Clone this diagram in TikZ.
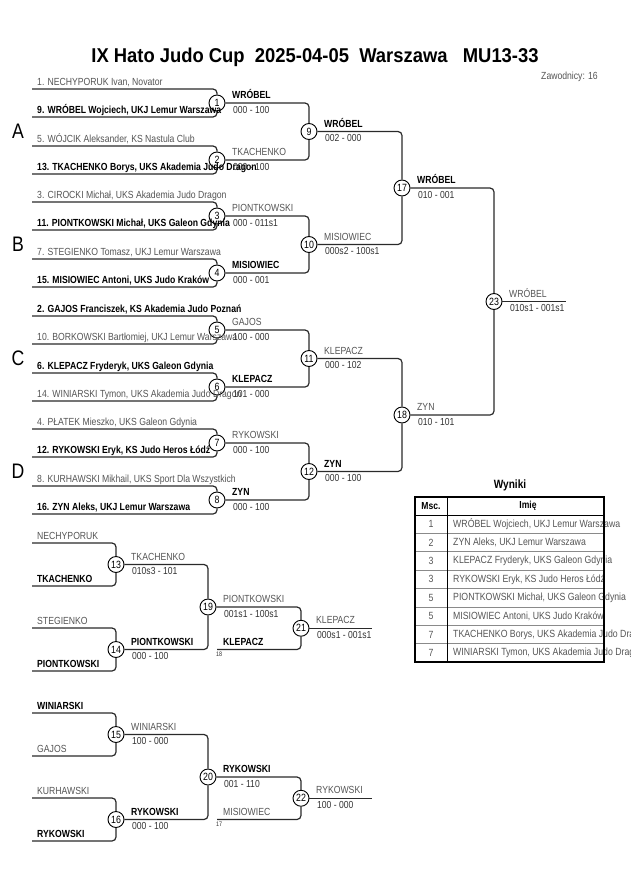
\documentclass[tikz,border=0pt]{standalone}
\usepackage{fontspec}
\setmainfont{Liberation Sans}[FakeStretch=0.84]
\newfontfamily\ttlfont{Liberation Sans}[FakeStretch=0.92]
\definecolor{ln}{HTML}{2A2A2A}
\definecolor{tg}{HTML}{555555}
\definecolor{sg}{HTML}{333333}
\definecolor{rl}{HTML}{8A8A8A}
\tikzset{
  mc/.style={circle, draw=black, line width=0.9pt, fill=white, minimum size=16pt, inner sep=0pt, font=\fontsize{10.5}{10}\selectfont},
  br/.style={draw=ln, line width=1.2pt, rounded corners=4pt},
  nm/.style={anchor=base west, inner sep=0pt, font=\fontsize{10.3}{10}\selectfont, text=tg},
  nmb/.style={anchor=base west, inner sep=0pt, font=\fontsize{10.3}{10}\selectfont\bfseries, text=black},
  sc/.style={anchor=base west, inner sep=0pt, font=\fontsize{10.2}{10}\selectfont, text=sg},
  grp/.style={inner sep=0pt, font=\fontsize{21}{21}\selectfont},
  tiny/.style={anchor=base west, inner sep=0pt, font=\fontsize{6.5}{6}\selectfont, text=sg},
  tc/.style={inner sep=0pt, font=\fontsize{10.4}{10}\selectfont, text=tg},
  tcb/.style={inner sep=0pt, font=\fontsize{10.2}{10}\selectfont\bfseries, text=black},
}
\begin{document}
\begin{tikzpicture}[x=1pt,y=-1pt]
\useasboundingbox (0,0) rectangle (630,891);
\fill[white] (0,0) rectangle (630,891);

% title
\node[inner sep=0pt, font=\ttlfont\fontsize{20}{21}\selectfont\bfseries] (title) at (315,57) {IX Hato Judo Cup\ \ 2025-04-05\ \ Warszawa\ \ \ MU13-33};
\node[anchor=base east, inner sep=0pt, font=\fontsize{10.3}{10}\selectfont, text=tg] (zaw) at (598,80) {Zawodnicy: 16};

% group letters
\node[grp] (gA) at (18,131) {A};
\node[grp] (gB) at (18,244) {B};
\node[grp] (gC) at (18,358) {C};
\node[grp] (gD) at (18,471) {D};

% match circles main bracket
\node[mc] (m1) at (217,103) {1};
\node[mc] (m2) at (217,160) {2};
\node[mc] (m3) at (217,216) {3};
\node[mc] (m4) at (217,273) {4};
\node[mc] (m5) at (217,330) {5};
\node[mc] (m6) at (217,387) {6};
\node[mc] (m7) at (217,443) {7};
\node[mc] (m8) at (217,500) {8};
\node[mc] (m9) at (309,131.5) {9};
\node[mc] (m10) at (309,244.5) {10};
\node[mc] (m11) at (309,358.5) {11};
\node[mc] (m12) at (309,471.5) {12};
\node[mc] (m17) at (402,188) {17};
\node[mc] (m18) at (402,415) {18};
\node[mc] (m23) at (494,301.5) {23};
\coordinate (fin) at (566,301.5);

% entry coordinates
\coordinate (e1) at (32,89);   \coordinate (e9) at (32,117);
\coordinate (e5) at (32,146);  \coordinate (e13) at (32,174);
\coordinate (e3) at (32,202);  \coordinate (e11) at (32,230);
\coordinate (e7) at (32,259);  \coordinate (e15) at (32,287);
\coordinate (e2) at (32,316);  \coordinate (e10) at (32,344);
\coordinate (e6) at (32,373);  \coordinate (e14) at (32,401);
\coordinate (e4) at (32,429);  \coordinate (e12) at (32,457);
\coordinate (e8) at (32,486);  \coordinate (e16) at (32,514);

% round 1 brackets
\draw[br] (e1) -| (m1.north);  \draw[br] (e9) -| (m1.south);
\draw[br] (e5) -| (m2.north);  \draw[br] (e13) -| (m2.south);
\draw[br] (e3) -| (m3.north);  \draw[br] (e11) -| (m3.south);
\draw[br] (e7) -| (m4.north);  \draw[br] (e15) -| (m4.south);
\draw[br] (e2) -| (m5.north);  \draw[br] (e10) -| (m5.south);
\draw[br] (e6) -| (m6.north);  \draw[br] (e14) -| (m6.south);
\draw[br] (e4) -| (m7.north);  \draw[br] (e12) -| (m7.south);
\draw[br] (e8) -| (m8.north);  \draw[br] (e16) -| (m8.south);
% later rounds
\draw[br] (m1.east) -| (m9.north);   \draw[br] (m2.east) -| (m9.south);
\draw[br] (m3.east) -| (m10.north);  \draw[br] (m4.east) -| (m10.south);
\draw[br] (m5.east) -| (m11.north);  \draw[br] (m6.east) -| (m11.south);
\draw[br] (m7.east) -| (m12.north);  \draw[br] (m8.east) -| (m12.south);
\draw[br] (m9.east) -| (m17.north);  \draw[br] (m10.east) -| (m17.south);
\draw[br] (m11.east) -| (m18.north); \draw[br] (m12.east) -| (m18.south);
\draw[br] (m17.east) -| (m23.north); \draw[br] (m18.east) -| (m23.south);
\draw[br] (m23.east) -- (fin);

% competitor names
\node[nm]  (n1)  at (37,85)  {1. NECHYPORUK Ivan, Novator};
\node[nmb] (n9)  at (37,113) {9. WRÓBEL Wojciech, UKJ Lemur Warszawa};
\node[nm]  (n5)  at (37,142) {5. WÓJCIK Aleksander, KS Nastula Club};
\node[nmb] (n13) at (37,170) {13. TKACHENKO Borys, UKS Akademia Judo Dragon};
\node[nm]  (n3)  at (37,198) {3. CIROCKI Michał, UKS Akademia Judo Dragon};
\node[nmb] (n11) at (37,226) {11. PIONTKOWSKI Michał, UKS Galeon Gdynia};
\node[nm]  (n7)  at (37,255) {7. STEGIENKO Tomasz, UKJ Lemur Warszawa};
\node[nmb] (n15) at (37,283) {15. MISIOWIEC Antoni, UKS Judo Kraków};
\node[nmb] (n2)  at (37,312) {2. GAJOS Franciszek, KS Akademia Judo Poznań};
\node[nm]  (n10) at (37,340) {10. BORKOWSKI Bartłomiej, UKJ Lemur Warszawa};
\node[nmb] (n6)  at (37,369) {6. KLEPACZ Fryderyk, UKS Galeon Gdynia};
\node[nm]  (n14) at (37,397) {14. WINIARSKI Tymon, UKS Akademia Judo Dragon};
\node[nm]  (n4)  at (37,425) {4. PŁATEK Mieszko, UKS Galeon Gdynia};
\node[nmb] (n12) at (37,453) {12. RYKOWSKI Eryk, KS Judo Heros Łódź};
\node[nm]  (n8)  at (37,482) {8. KURHAWSKI Mikhail, UKS Sport Dla Wszystkich};
\node[nmb] (n16) at (37,510) {16. ZYN Aleks, UKJ Lemur Warszawa};

% match results (main)
\node[nmb] (w1) at (232,98.5) {WRÓBEL};        \node[sc] (s1) at (233,113) {000 - 100};
\node[nm]  (w2) at (232,155.5) {TKACHENKO};    \node[sc] (s2) at (233,170) {000 - 100};
\node[nm]  (w3) at (232,211.5) {PIONTKOWSKI};  \node[sc] (s3) at (233,226) {000 - 011s1};
\node[nmb] (w4) at (232,268.5) {MISIOWIEC};    \node[sc] (s4) at (233,283) {000 - 001};
\node[nm]  (w5) at (232,325.5) {GAJOS};        \node[sc] (s5) at (233,340) {100 - 000};
\node[nmb] (w6) at (232,382.5) {KLEPACZ};      \node[sc] (s6) at (233,397) {101 - 000};
\node[nm]  (w7) at (232,438.5) {RYKOWSKI};     \node[sc] (s7) at (233,453) {000 - 100};
\node[nmb] (w8) at (232,495.5) {ZYN};          \node[sc] (s8) at (233,510) {000 - 100};
\node[nmb] (w9)  at (324,127) {WRÓBEL};        \node[sc] (s9)  at (325,141.5) {002 - 000};
\node[nm]  (w10) at (324,240) {MISIOWIEC};     \node[sc] (s10) at (325,254.5) {000s2 - 100s1};
\node[nm]  (w11) at (324,354) {KLEPACZ};       \node[sc] (s11) at (325,368.5) {000 - 102};
\node[nmb] (w12) at (324,467) {ZYN};           \node[sc] (s12) at (325,481.5) {000 - 100};
\node[nmb] (w17) at (417,183.5) {WRÓBEL};      \node[sc] (s17) at (418,198) {010 - 001};
\node[nm]  (w18) at (417,410.5) {ZYN};         \node[sc] (s18) at (418,425) {010 - 101};
\node[nm]  (w23) at (509,297) {WRÓBEL};        \node[sc] (s23) at (510,311.5) {010s1 - 001s1};

% ---------- repechage 1 ----------
\node[mc] (m13) at (116,564.5) {13};
\node[mc] (m14) at (116,649.5) {14};
\node[mc] (m19) at (208,607) {19};
\node[mc] (m21) at (301,628.25) {21};
\coordinate (r1a) at (32,543); \coordinate (r1b) at (32,586);
\coordinate (r1c) at (32,628); \coordinate (r1d) at (32,671);
\coordinate (r1e) at (217,649.5);
\coordinate (r1f) at (372,628.25);
\draw[br] (r1a) -| (m13.north); \draw[br] (r1b) -| (m13.south);
\draw[br] (r1c) -| (m14.north); \draw[br] (r1d) -| (m14.south);
\draw[br] (m13.east) -| (m19.north); \draw[br] (m14.east) -| (m19.south);
\draw[br] (m19.east) -| (m21.north); \draw[br] (r1e) -| (m21.south);
\draw[br] (m21.east) -- (r1f);
\node[nm]  (q1) at (37,539) {NECHYPORUK};
\node[nmb] (q2) at (37,582) {TKACHENKO};
\node[nm]  (q3) at (37,624) {STEGIENKO};
\node[nmb] (q4) at (37,667) {PIONTKOWSKI};
\node[nm]  (w13) at (131,560) {TKACHENKO};     \node[sc] (s13) at (132,574.5) {010s3 - 101};
\node[nmb] (w14) at (131,645) {PIONTKOWSKI};   \node[sc] (s14) at (132,659.5) {000 - 100};
\node[nm]  (w19) at (223,602.5) {PIONTKOWSKI}; \node[sc] (s19) at (224,617) {001s1 - 100s1};
\node[nmb] (l21) at (223,645) {KLEPACZ};
\node[tiny] (t18) at (216,656) {18};
\node[nm]  (w21) at (316,623.5) {KLEPACZ};     \node[sc] (s21) at (317,638) {000s1 - 001s1};

% ---------- repechage 2 ----------
\node[mc] (m15) at (116,734.5) {15};
\node[mc] (m16) at (116,819.5) {16};
\node[mc] (m20) at (208,777) {20};
\node[mc] (m22) at (301,798.25) {22};
\coordinate (r2a) at (32,713); \coordinate (r2b) at (32,756);
\coordinate (r2c) at (32,798); \coordinate (r2d) at (32,841);
\coordinate (r2e) at (217,819.5);
\coordinate (r2f) at (372,798.25);
\draw[br] (r2a) -| (m15.north); \draw[br] (r2b) -| (m15.south);
\draw[br] (r2c) -| (m16.north); \draw[br] (r2d) -| (m16.south);
\draw[br] (m15.east) -| (m20.north); \draw[br] (m16.east) -| (m20.south);
\draw[br] (m20.east) -| (m22.north); \draw[br] (r2e) -| (m22.south);
\draw[br] (m22.east) -- (r2f);
\node[nmb] (q5) at (37,709) {WINIARSKI};
\node[nm]  (q6) at (37,752) {GAJOS};
\node[nm]  (q7) at (37,794) {KURHAWSKI};
\node[nmb] (q8) at (37,837) {RYKOWSKI};
\node[nm]  (w15) at (131,730) {WINIARSKI};     \node[sc] (s15) at (132,744.5) {100 - 000};
\node[nmb] (w16) at (131,815) {RYKOWSKI};      \node[sc] (s16) at (132,829.5) {000 - 100};
\node[nmb] (w20) at (223,772.5) {RYKOWSKI};    \node[sc] (s20) at (224,787) {001 - 110};
\node[nm]  (l22) at (223,815) {MISIOWIEC};
\node[tiny] (t17) at (216,826) {17};
\node[nm]  (w22) at (316,793.5) {RYKOWSKI};    \node[sc] (s22) at (317,808) {100 - 000};

% ---------- results table ----------
\node[inner sep=0pt, font=\fontsize{12}{12}\selectfont\bfseries] (wyn) at (510,485) {Wyniki};
\node[tcb] (hm) at (431,506) {Msc.};
\node[tcb] (hi) at (528,506) {Imię};
\foreach \i/\p/\t in {1/1/{WRÓBEL Wojciech, UKJ Lemur Warszawa},
                     2/2/{ZYN Aleks, UKJ Lemur Warszawa},
                     3/3/{KLEPACZ Fryderyk, UKS Galeon Gdynia},
                     4/3/{RYKOWSKI Eryk, KS Judo Heros Łódź},
                     5/5/{PIONTKOWSKI Michał, UKS Galeon Gdynia},
                     6/5/{MISIOWIEC Antoni, UKS Judo Kraków},
                     7/7/{TKACHENKO Borys, UKS Akademia Judo Dragon},
                     8/7/{WINIARSKI Tymon, UKS Akademia Judo Dragon}}{
  \node[tc] (rp\i) at (431,{515+18.4*(\i-0.5)}) {\p};
  \node[tc, anchor=west] (rn\i) at (453,{515+18.4*(\i-0.5)}) {\t};
}
\foreach \i in {1,...,7}{
  \draw[rl, line width=0.7pt] (415,{515+18.4*\i}) -- (604,{515+18.4*\i});
}
\draw[black, line width=0.9pt] (415,515) -- (604,515);
\draw[black, line width=0.9pt] (447,497) -- (447,662);
\draw[black, line width=1.6pt] (415,497) rectangle (604,662);
\end{tikzpicture}
\end{document}
